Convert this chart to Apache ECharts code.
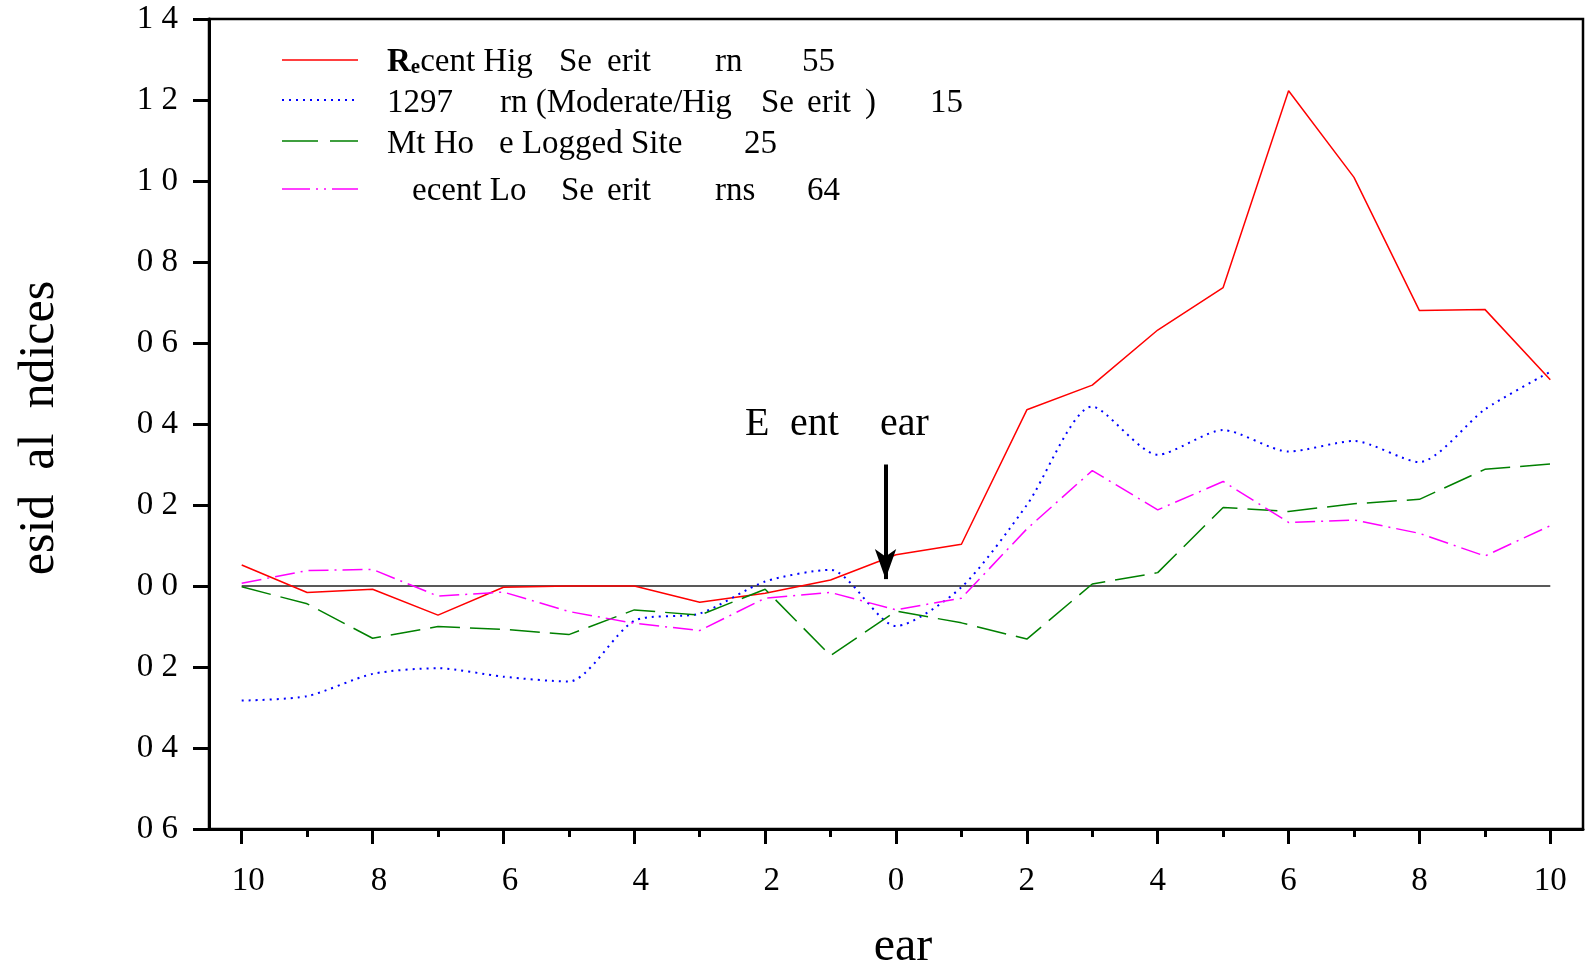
<!DOCTYPE html>
<html><head><meta charset="utf-8">
<script src="https://cdn.jsdelivr.net/npm/echarts@6/dist/echarts.min.js"></script>
<style>html,body{margin:0;padding:0;background:#fff}#c{width:1585px;height:969px}</style>
</head><body><div id="c"></div>
<script>
const years = [-10,-9,-8,-7,-6,-5,-4,-3,-2,-1,0,1,2,3,4,5,6,7,8,9,10];
const recentHigh = [0.052,-0.016,-0.008,-0.072,-0.003,0.000,0.000,-0.040,-0.018,0.015,0.077,0.103,0.435,0.496,0.632,0.737,1.223,1.009,0.680,0.683,0.509];
const burn1297 = [-0.283,-0.272,-0.217,-0.203,-0.224,-0.236,-0.086,-0.068,0.011,0.040,-0.099,-0.003,0.200,0.443,0.324,0.385,0.332,0.358,0.306,0.436,0.529];
const mtHope = [-0.002,-0.044,-0.129,-0.100,-0.107,-0.120,-0.059,-0.072,-0.008,-0.172,-0.062,-0.091,-0.131,0.005,0.033,0.194,0.184,0.203,0.214,0.288,0.301];
const recentLow = [0.007,0.038,0.041,-0.025,-0.015,-0.063,-0.092,-0.110,-0.030,-0.016,-0.059,-0.030,0.141,0.285,0.188,0.258,0.157,0.163,0.130,0.074,0.149];
const xMajorTicks = [-10,-8,-6,-4,-2,0,2,4,6,8,10];
const xMinorTicks = [-9,-7,-5,-3,-1,1,3,5,7,9];
const arrowStart = [-0.16, 0.30];
const arrowEnd = [-0.16, 0.017];
const FONT = '"Liberation Serif","Times New Roman",serif';

const pairs = arr => years.map((y, i) => [y, arr[i]]);
const chart = echarts.init(document.getElementById('c'), null, {renderer: 'canvas'});

function txt(x, y, text, size, extra) {
  return {type: 'text', x: x, y: y, style: Object.assign({text: text, font: size + 'px ' + FONT, fill: '#000', verticalAlign: 'middle', align: 'left'}, extra || {})};
}
function legLine(y, color, dash, w) {
  return {type: 'line', shape: {x1: 282, y1: y, x2: 358, y2: y}, style: {stroke: color, lineWidth: w, lineDash: dash}};
}
const LF = 33;
const graphics = [
  legLine(60, '#ff0000', null, 1.5),
  legLine(100, '#0000ff', [2, 5], 2),
  legLine(141, '#008000', [36, 12], 1.5),
  legLine(189, '#ff00ff', [28, 6, 2, 6, 2, 6], 1.5),
  {type: 'text', x: 387, y: 62, style: {text: '{b|R}{s|e}cent Hig', font: LF + 'px ' + FONT, fill: '#000', verticalAlign: 'middle',
    rich: {b: {fontWeight: 'bold', fontSize: LF, fontFamily: FONT}, s: {fontWeight: 'bold', fontSize: 21, fontFamily: FONT, verticalAlign: 'bottom'}}}},
  txt(559, 62, 'Se', LF), txt(607, 62, 'erit', LF), txt(715, 62, 'rn', LF), txt(802, 62, '55', LF),
  txt(387, 103, '1297', LF), txt(500, 103, 'rn (Moderate/Hig', LF), txt(761, 103, 'Se', LF), txt(807, 103, 'erit', LF), txt(865, 103, ')', LF), txt(930, 103, '15', LF),
  txt(387, 144, 'Mt Ho', LF), txt(499, 144, 'e Logged Site', LF), txt(744, 144, '25', LF),
  txt(412, 191, 'ecent Lo', LF), txt(561, 191, 'Se', LF), txt(607, 191, 'erit', LF), txt(715, 191, 'rns', LF), txt(807, 191, '64', LF),
  txt(745, 424, 'E', 40), txt(790, 424, 'ent', 40), txt(880, 424, 'ear', 40),
  txt(903, 947, 'ear', 48, {align: 'center'}),
  {type: 'text', x: 40, y: 428, rotation: Math.PI / 2, style: {text: 'esid  al  ndices', font: '50px ' + FONT, fill: '#000', align: 'center', verticalAlign: 'middle'}}
];

const axisLineStyle = {color: '#000', width: 3};
const option = {
  animation: false,
  backgroundColor: '#fff',
  grid: {left: 209, right: 2, top: 19, bottom: 140, show: true, borderColor: '#000', borderWidth: 2.5, backgroundColor: 'transparent'},
  xAxis: [
    {type: 'value', min: -10.5, max: 10.5, position: 'bottom', splitLine: {show: false},
      axisLine: {lineStyle: axisLineStyle, onZero: false},
      axisTick: {show: true, customValues: xMajorTicks, length: 15, lineStyle: {color: '#000', width: 3}},
      axisLabel: {customValues: xMajorTicks, fontSize: 33, fontFamily: FONT, color: '#000', margin: 36,
        formatter: v => v < 0 ? '{n|' + Math.abs(v) + '}' : '{p|' + v + '}',
        rich: {n: {fontSize: 33, fontFamily: FONT, color: '#000', padding: [0, 0, 0, 13]}, p: {fontSize: 33, fontFamily: FONT, color: '#000'}}}},
    {type: 'value', min: -10.5, max: 10.5, position: 'bottom', splitLine: {show: false},
      axisLine: {show: false, onZero: false},
      axisTick: {show: true, customValues: xMinorTicks, length: 8, lineStyle: {color: '#000', width: 3}},
      axisLabel: {show: false}}
  ],
  yAxis: {type: 'value', min: -0.6, max: 1.4, interval: 0.2, splitLine: {show: false},
    axisLine: {lineStyle: axisLineStyle, onZero: false},
    axisTick: {show: true, length: 16, lineStyle: {color: '#000', width: 3}},
    axisLabel: {formatter: v => Math.abs(v).toFixed(1).replace('.', ' '), fontSize: 33, fontFamily: FONT, color: '#000', margin: 31}},
  graphic: graphics,
  series: [
    {type: 'line', name: 'zero', data: [[years[0], 0], [years[years.length - 1], 0]], showSymbol: false, silent: true, z: 1,
      lineStyle: {color: '#222', width: 1.5},
      markLine: {silent: true, symbol: ['none', 'arrow'], symbolSize: [16, 30], label: {show: false},
        lineStyle: {color: '#000', width: 4, type: 'solid'},
        data: [[{coord: arrowStart}, {coord: arrowEnd}]]}},
    {type: 'line', name: 'Recent High Severity Burn', data: pairs(recentHigh), showSymbol: false, z: 3,
      lineStyle: {color: '#ff0000', width: 1.5}, itemStyle: {color: '#ff0000'}},
    {type: 'line', name: '1297 Burn', data: pairs(burn1297), showSymbol: false, smooth: 0.25, z: 3,
      lineStyle: {color: '#0000ff', width: 2, type: [2, 5]}, itemStyle: {color: '#0000ff'}},
    {type: 'line', name: 'Mt Hope Logged Site', data: pairs(mtHope), showSymbol: false, z: 3,
      lineStyle: {color: '#008000', width: 1.5, type: [30, 10]}, itemStyle: {color: '#008000'}},
    {type: 'line', name: 'Recent Low Severity Burns', data: pairs(recentLow), showSymbol: false, z: 3,
      lineStyle: {color: '#ff00ff', width: 1.5, type: [20, 6, 2, 6]}, itemStyle: {color: '#ff00ff'}}
  ]
};
chart.setOption(option);
</script></body></html>
